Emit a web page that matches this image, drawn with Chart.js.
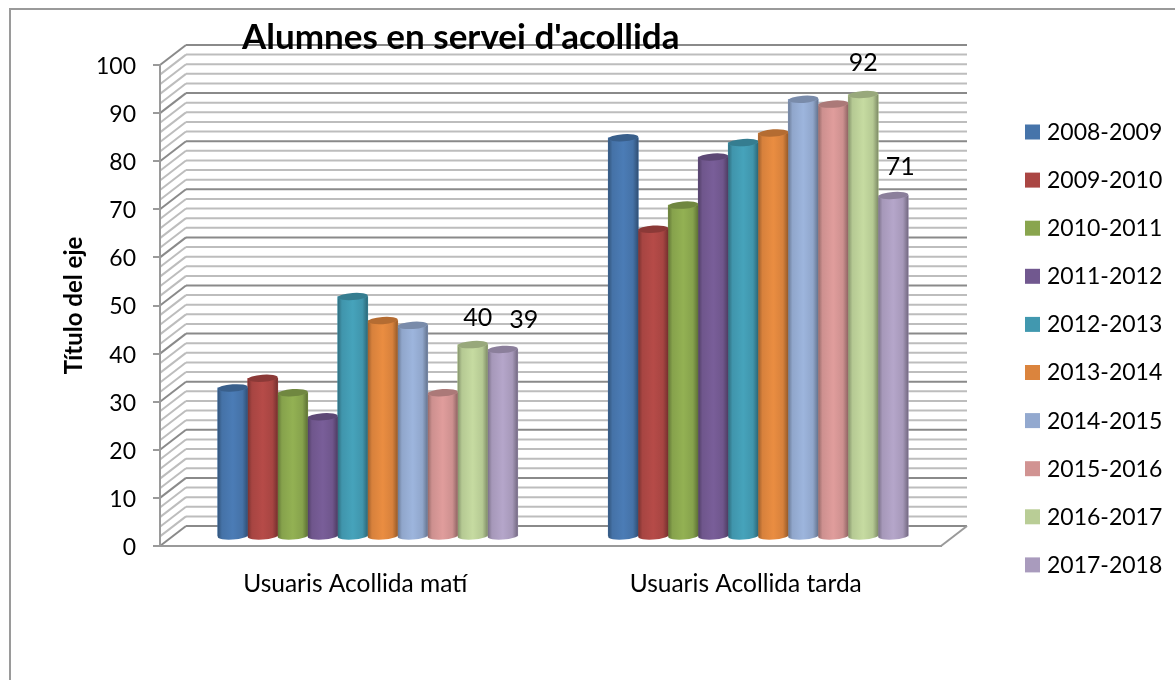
<!DOCTYPE html>
<html><head><meta charset="utf-8">
<style>html,body{margin:0;padding:0;background:#fff}canvas{display:block}</style>
<script src="https://cdn.jsdelivr.net/npm/chart.js@4/dist/chart.umd.min.js"></script>
</head><body><canvas id="c" width="1175" height="680"></canvas>
<script>
const categories = ['Usuaris Acollida matí', 'Usuaris Acollida tarda'];
const seriesNames = ['2008-2009','2009-2010','2010-2011','2011-2012','2012-2013','2013-2014','2014-2015','2015-2016','2016-2017','2017-2018'];
const colors = ['#4674AA','#AA4643','#89A54E','#71588F','#4198AF','#DB843D','#93A9CF','#D19392','#B9CD96','#A99BBD'];
const v0809 = [31, 83];
const v0910 = [33, 64];
const v1011 = [30, 69];
const v1112 = [25, 79];
const v1213 = [50, 82];
const v1314 = [45, 84];
const v1415 = [44, 91];
const v1516 = [30, 90];
const v1617 = [40, 92];
const v1718 = [39, 71];
const seriesValues = [v0809,v0910,v1011,v1112,v1213,v1314,v1415,v1516,v1617,v1718];
const titleText = "Alumnes en servei d'acollida";
const yTitle = 'Título del eje';
const FONT = 'Lato, Carlito, sans-serif';

// depth of the pseudo-3D box and how far the columns sit inside it
const DX = 26, DY = -20, BAR_DX = 12.5, BAR_DY = -9;
const labelled = [[8,0,5,-27],[9,0,21,-29],[8,1,0,-32],[9,1,7,-29]];

function shade(hex, f){
  const n = parseInt(hex.slice(1),16);
  const ch = s => Math.max(0,Math.min(255,Math.round(((n>>s)&255)*f)));
  return `rgb(${ch(16)},${ch(8)},${ch(0)})`;
}

const box3d = {
  id:'box3d',
  beforeDraw(chart){
    const {ctx, scales:{y}, chartArea:a} = chart;
    ctx.save();
    ctx.fillStyle='#fff'; ctx.fillRect(0,0,chart.width,chart.height);
    ctx.strokeStyle='#9a9a9a'; ctx.lineWidth=2;
    ctx.strokeRect(10,9,chart.width+20,chart.height+20);
    const line=(x1,y1,x2,y2)=>{ctx.beginPath();ctx.moveTo(x1,y1);ctx.lineTo(x2,y2);ctx.stroke();};
    ctx.lineWidth=2;
    for(const major of [false,true]){
      ctx.strokeStyle = major ? '#8a8a8a' : '#bdbdbd';
      for(let v=0;v<=100;v+=2){
        if((v%10===0)!==major) continue;
        const py=y.getPixelForValue(v);
        line(a.left,py,a.left+DX,py+DY);
        line(a.left+DX,py+DY,a.right+DX,py+DY);
      }
    }
    ctx.strokeStyle='#9a9a9a';
    const base=y.getPixelForValue(0);
    line(a.right,base,a.right+DX,base+DY);
    ctx.restore();
  },
  beforeDatasetsDraw(chart){ chart.ctx.save(); chart.ctx.translate(BAR_DX,BAR_DY); },
  afterDatasetsDraw(chart){
    const ctx=chart.ctx;
    const tilt=-0.07, ry=3.6;
    chart.data.datasets.forEach((ds,i)=>{
      chart.getDatasetMeta(i).data.forEach(el=>{
        const rx=el.width/2, l=el.x-rx, r=el.x+rx, c=colors[i];
        const g=ctx.createLinearGradient(l,0,r,0);
        g.addColorStop(0,shade(c,0.72)); g.addColorStop(0.14,shade(c,0.98));
        g.addColorStop(0.5,shade(c,1.07)); g.addColorStop(0.82,shade(c,0.98));
        g.addColorStop(1,shade(c,0.68));
        ctx.fillStyle=g;
        ctx.beginPath();
        ctx.ellipse(el.x,el.y,rx,ry,tilt,Math.PI,0,true);
        ctx.ellipse(el.x,el.base,rx,ry,tilt,0,Math.PI,false);
        ctx.closePath(); ctx.fill();
        ctx.fillStyle=shade(c,0.82);
        ctx.beginPath(); ctx.ellipse(el.x,el.y,rx,ry,tilt,0,Math.PI*2); ctx.fill();
      });
    });
    ctx.restore();
  },
  afterDraw(chart){
    const ctx=chart.ctx;
    ctx.save();
    // title
    ctx.fillStyle='#000'; ctx.textBaseline='middle'; ctx.textAlign='left';
    ctx.font=`bold 35px ${FONT}`;
    ctx.fillText(titleText,242,38);
    // selected data labels
    ctx.font=`25px ${FONT}`; ctx.textAlign='center';
    labelled.forEach(([d,i,ox,oy])=>{
      const el=chart.getDatasetMeta(d).data[i];
      ctx.fillText(String(seriesValues[d][i]),el.x+BAR_DX+ox,el.y+BAR_DY+oy);
    });
    // legend
    ctx.font=`23px ${FONT}`; ctx.textAlign='left';
    seriesNames.forEach((n,i)=>{
      const cy=132+i*48.1;
      ctx.fillStyle=colors[i]; ctx.fillRect(1025,cy-7.5,15,15);
      ctx.fillStyle='#000'; ctx.fillText(n,1047,cy+0.5);
    });
    ctx.restore();
  }
};

new Chart(document.getElementById('c'),{
  type:'bar',
  data:{labels:categories,datasets:seriesNames.map((n,i)=>({
    label:n,data:seriesValues[i],backgroundColor:colors[i],borderWidth:0,barThickness:30
  }))},
  options:{
    responsive:false,animation:false,
    layout:{padding:{left:0,right:234,top:65,bottom:0}},
    plugins:{legend:{display:false},tooltip:{enabled:false}},
    scales:{
      x:{
        afterFit(s){s.height=134;},
        grid:{display:false,drawTicks:false},
        border:{display:true,color:'#9a9a9a',width:2},
        ticks:{color:'#000',font:{family:FONT,size:24.5},padding:23,maxRotation:0}
      },
      y:{
        min:0,max:100,
        afterFit(s){s.width=160;},
        grid:{drawOnChartArea:false,tickLength:7,color:'#9a9a9a',lineWidth:2},
        border:{display:true,color:'#9a9a9a',width:2},
        ticks:{stepSize:10,color:'#000',font:{family:FONT,size:23},padding:17,labelOffset:1.5},
        title:{display:true,text:yTitle,color:'#000',font:{family:FONT,size:24,weight:'bold'},padding:{top:60,bottom:0}}
      }
    }
  },
  plugins:[box3d]
});
</script></body></html>
